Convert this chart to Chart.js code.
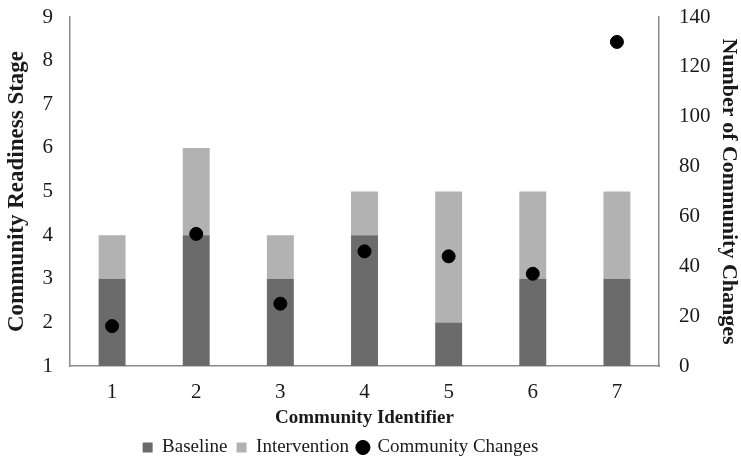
<!DOCTYPE html>
<html>
<head>
<meta charset="utf-8">
<script src="https://cdn.jsdelivr.net/npm/chart.js@4"></script>
<style>
  body { margin: 0; background: #fff; }
  #wrap { width: 741px; height: 464px; }
</style>
</head>
<body>
<div id="wrap"><canvas id="myChart"></canvas></div>
<script>
// data
const communities = ["1", "2", "3", "4", "5", "6", "7"];
const baseline = [3, 4, 3, 4, 2, 3, 3];
const intervention = [1, 2, 1, 1, 3, 2, 2];   // added on top of baseline
const changes = [16, 53, 25, 46, 44, 37, 130];

const serif = "'Liberation Serif', 'Times New Roman', serif";
const textColor = "#1a1a1a";
const axisColor = "#8a8a8a";

// tick padding also pads the top of the y axes, take it back off
function fixY(width) {
  return function(s) {
    s.width = width;
    s.paddingTop = 17;
    s.paddingBottom = 0;
  };
}

// legend sits a bit left of centre in the original
const legendShift = {
  id: 'legendShift',
  afterLayout: function(chart) {
    chart.legend.left -= 30;
    chart.legend.right -= 30;
  }
};

const ctx = document.getElementById('myChart');

new Chart(ctx, {
  type: 'bar',
  data: {
    labels: communities,
    datasets: [{
      label: 'Baseline',
      data: baseline,
      backgroundColor: '#6b6b6b',
      barPercentage: 0.32,
      categoryPercentage: 1,
      yAxisID: 'y',
      pointStyle: 'rect',
      order: 1
    }, {
      label: 'Intervention',
      data: intervention,
      backgroundColor: '#b2b2b2',
      barPercentage: 0.32,
      categoryPercentage: 1,
      yAxisID: 'y',
      pointStyle: 'rect',
      order: 1
    }, {
      type: 'line',
      label: 'Community Changes',
      data: changes,
      yAxisID: 'y1',
      showLine: false,
      pointStyle: 'circle',
      pointRadius: 6.5,
      pointBackgroundColor: '#000',
      pointBorderColor: '#000',
      backgroundColor: '#000',
      borderColor: '#000',
      order: 0
    }]
  },
  plugins: [legendShift],
  options: {
    responsive: true,
    maintainAspectRatio: false,
    animation: false,
    layout: { padding: { top: 0, bottom: -3 } },
    plugins: {
      tooltip: { enabled: false },
      legend: {
        position: 'bottom',
        labels: {
          usePointStyle: true,
          boxWidth: 10,
          boxHeight: 10,
          padding: 9,
          color: textColor,
          font: { family: serif, size: 19 },
          sort: function(a, b) { return a.datasetIndex - b.datasetIndex; }
        }
      }
    },
    scales: {
      x: {
        stacked: true,
        grid: { display: false, drawTicks: false },
        border: { display: true, color: axisColor, width: 1.5 },
        ticks: { color: textColor, padding: 14, font: { family: serif, size: 21 } },
        title: {
          display: true,
          text: 'Community Identifier',
          color: textColor,
          padding: { top: -13, bottom: 0 },
          font: { family: serif, size: 19, weight: 'bold' }
        }
      },
      y: {
        stacked: true,
        position: 'left',
        min: 1,
        max: 9,
        grid: { display: false, drawTicks: false },
        border: { display: true, color: axisColor, width: 1.5 },
        ticks: { stepSize: 1, color: textColor, padding: 17, font: { family: serif, size: 21 } },
        title: {
          display: true,
          text: 'Community Readiness Stage',
          color: textColor,
          padding: { top: 3, bottom: 0 },
          font: { family: serif, size: 23, weight: 'bold' }
        },
        afterFit: fixY(70)
      },
      y1: {
        stacked: false,
        position: 'right',
        min: 0,
        max: 140,
        grid: { display: false, drawTicks: false },
        border: { display: true, color: axisColor, width: 1.5 },
        ticks: { stepSize: 20, color: textColor, padding: 20, font: { family: serif, size: 21 } },
        title: {
          display: true,
          text: 'Number of Community Changes',
          color: textColor,
          padding: { top: -1, bottom: 0 },
          font: { family: serif, size: 22, weight: 'bold' }
        },
        afterFit: fixY(82)
      }
    }
  }
});
</script>
</body>
</html>
